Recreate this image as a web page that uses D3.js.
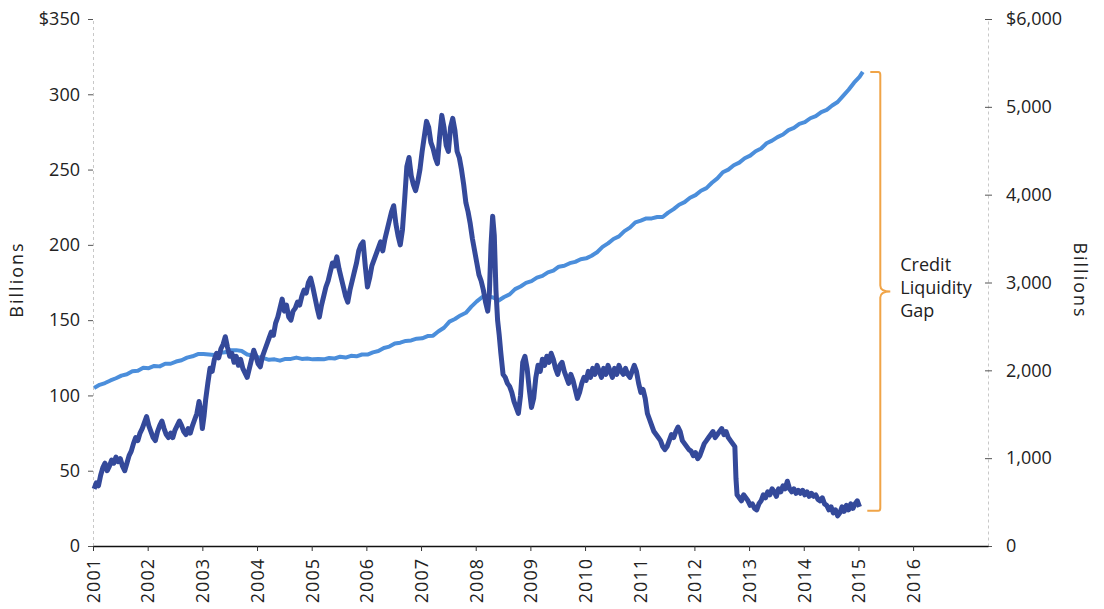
<!DOCTYPE html>
<html>
<head>
<meta charset="utf-8">
<script src="https://cdn.jsdelivr.net/npm/d3@7"></script>
<style>
  body { margin: 0; background: #fff; }
  text { font-family: "Open Sans", sans-serif; fill: #222; }
</style>
</head>
<body>
<div id="chart"></div>
<script>
// data (decimal years)
// dark series, left axis (billions)
const gapYears = [
  2001.02,2001.06,2001.10,2001.14,2001.18,2001.22,2001.26,2001.30,2001.34,2001.38,2001.42,2001.46,2001.50,2001.54,2001.58,2001.62,2001.66,2001.70,2001.74,2001.78,2001.82,2001.86,2001.90,2001.94,2001.98,
  2002.02,2002.06,2002.10,2002.14,2002.18,2002.22,2002.26,2002.30,2002.34,2002.38,2002.42,2002.46,2002.50,2002.54,2002.58,2002.62,2002.66,2002.70,2002.74,2002.78,2002.82,2002.86,2002.90,2002.94,2002.97,
  2003.00,2003.03,2003.06,2003.10,2003.14,2003.18,2003.22,2003.26,2003.30,2003.34,2003.38,2003.42,2003.46,2003.50,2003.54,2003.58,2003.62,2003.66,2003.70,2003.74,2003.78,2003.82,2003.86,2003.90,2003.94,2003.98,
  2004.02,2004.06,2004.10,2004.14,2004.18,2004.22,2004.26,2004.30,2004.34,2004.38,2004.42,2004.46,2004.50,2004.54,2004.58,2004.62,2004.66,2004.70,2004.74,2004.78,2004.82,2004.86,2004.90,2004.94,2004.98,
  2005.02,2005.06,2005.10,2005.14,2005.18,2005.22,2005.26,2005.30,2005.34,2005.38,2005.42,2005.46,2005.50,2005.54,2005.58,2005.62,2005.66,2005.70,2005.74,2005.78,2005.82,2005.86,2005.90,2005.94,2005.98,
  2006.02,2006.06,2006.10,2006.14,2006.18,2006.22,2006.26,2006.30,2006.34,2006.38,2006.42,2006.46,2006.50,2006.54,2006.58,2006.62,2006.66,2006.70,2006.74,2006.78,2006.82,2006.86,2006.90,2006.94,2006.98,
  2007.02,2007.06,2007.10,2007.14,2007.18,2007.22,2007.26,2007.30,2007.34,2007.38,2007.42,2007.46,2007.50,2007.54,2007.58,2007.62,2007.66,2007.70,2007.74,2007.78,2007.82,2007.86,2007.90,2007.94,2007.98,
  2008.02,2008.06,2008.10,2008.14,2008.18,2008.22,2008.25,2008.28,2008.31,2008.34,2008.37,2008.40,2008.43,2008.46,2008.50,2008.54,2008.58,2008.62,2008.66,2008.70,2008.74,2008.78,2008.82,2008.86,2008.90,2008.94,2008.98,
  2009.02,2009.06,2009.10,2009.14,2009.18,2009.22,2009.26,2009.30,2009.34,2009.38,2009.42,2009.46,2009.50,2009.54,2009.58,2009.62,2009.66,2009.70,2009.74,2009.78,2009.82,2009.86,2009.90,2009.94,2009.98,
  2010.02,2010.06,2010.10,2010.14,2010.18,2010.22,2010.26,2010.30,2010.34,2010.38,2010.42,2010.46,2010.50,2010.54,2010.58,2010.62,2010.66,2010.70,2010.74,2010.78,2010.82,2010.86,2010.90,2010.94,2010.98,
  2011.02,2011.06,2011.10,2011.14,2011.18,2011.22,2011.26,2011.30,2011.34,2011.38,2011.42,2011.46,2011.50,2011.54,2011.58,2011.62,2011.66,2011.70,2011.74,2011.78,2011.82,2011.86,2011.90,2011.94,2011.98,
  2012.02,2012.06,2012.10,2012.14,2012.18,2012.22,2012.26,2012.30,2012.34,2012.38,2012.42,2012.46,2012.50,2012.54,2012.58,2012.62,2012.66,2012.70,2012.74,2012.76,2012.78,2012.82,2012.86,2012.90,2012.94,2012.98,
  2013.02,2013.06,2013.10,2013.14,2013.18,2013.22,2013.26,2013.30,2013.34,2013.38,2013.42,2013.46,2013.50,2013.54,2013.58,2013.62,2013.66,2013.70,2013.74,2013.78,2013.82,2013.86,2013.90,2013.94,2013.98,
  2014.02,2014.06,2014.10,2014.14,2014.18,2014.22,2014.26,2014.30,2014.34,2014.38,2014.42,2014.46,2014.50,2014.54,2014.58,2014.62,2014.66,2014.70,2014.74,2014.78,2014.82,2014.86,2014.90,2014.94,2014.98,2015.02];
const gapValues = [
  38,42,40,47,52,55,50,53,57,55,59,56,58,53,50,55,60,63,68,72,70,75,78,82,86,
  80,76,72,70,76,80,83,78,74,72,75,72,77,80,83,80,76,74,78,75,80,84,88,96,90,
  78,86,97,108,118,116,124,128,125,131,134,139,132,126,128,122,126,120,124,118,115,112,118,124,130,126,
  121,119,126,130,134,138,142,140,148,152,158,164,156,160,152,150,156,158,162,160,166,170,168,175,178,
  172,165,158,152,160,166,172,176,182,188,186,192,184,178,172,166,162,170,176,182,188,196,200,202,186,
  172,178,186,190,194,198,202,196,204,210,216,222,226,214,206,200,210,230,252,258,246,240,236,242,250,
  262,272,282,278,268,264,258,254,272,286,278,266,262,278,284,276,262,258,250,240,228,222,214,204,196,
  188,180,176,170,162,156,168,200,219,206,170,150,140,128,114,112,108,106,102,96,92,88,100,122,126,118,104,
  92,98,112,120,116,124,120,126,122,128,124,118,114,120,122,116,112,108,114,110,104,98,102,108,112,
  110,116,112,118,114,120,116,112,118,114,120,116,112,118,114,120,116,114,118,114,112,116,120,116,108,
  102,104,98,88,84,80,76,74,72,70,66,64,66,70,74,72,76,79,76,70,68,66,64,63,60,
  62,58,60,64,68,70,72,74,76,72,74,76,78,74,76,72,70,68,66,45,34,32,30,34,32,30,
  27,28,25,24,28,30,34,32,36,34,38,36,33,38,36,40,38,43,38,36,38,35,37,35,37,
  34,36,33,35,33,34,31,30,32,28,27,24,26,22,24,20,22,26,23,27,24,28,25,28,30,26];

// light series, right axis (billions)
const assetYears = [
  2001.02,2001.12,2001.22,2001.32,2001.42,2001.52,2001.62,2001.72,2001.82,2001.92,
  2002.02,2002.12,2002.22,2002.32,2002.42,2002.52,2002.62,2002.72,2002.82,2002.92,
  2003.02,2003.12,2003.22,2003.32,2003.42,2003.52,2003.62,2003.72,2003.82,2003.92,
  2004.02,2004.12,2004.22,2004.32,2004.42,2004.52,2004.62,2004.72,2004.82,2004.92,
  2005.02,2005.12,2005.22,2005.32,2005.42,2005.52,2005.62,2005.72,2005.82,2005.92,
  2006.02,2006.12,2006.22,2006.32,2006.42,2006.52,2006.62,2006.72,2006.82,2006.92,
  2007.02,2007.12,2007.22,2007.32,2007.42,2007.52,2007.62,2007.72,2007.82,2007.92,
  2008.02,2008.12,2008.22,2008.32,2008.42,2008.52,2008.62,2008.72,2008.82,2008.92,
  2009.02,2009.12,2009.22,2009.32,2009.42,2009.52,2009.62,2009.72,2009.82,2009.92,
  2010.02,2010.12,2010.22,2010.32,2010.42,2010.52,2010.62,2010.72,2010.82,2010.92,
  2011.02,2011.12,2011.22,2011.32,2011.42,2011.52,2011.62,2011.72,2011.82,2011.92,
  2012.02,2012.12,2012.22,2012.32,2012.42,2012.52,2012.62,2012.72,2012.82,2012.92,
  2013.02,2013.12,2013.22,2013.32,2013.42,2013.52,2013.62,2013.72,2013.82,2013.92,
  2014.02,2014.12,2014.22,2014.32,2014.42,2014.52,2014.62,2014.72,2014.82,2014.92,2015.02,2015.08];
const assetValues = [
  1800,1835,1855,1885,1910,1940,1955,1990,1995,2030,
  2025,2050,2045,2075,2075,2100,2115,2145,2160,2185,
  2185,2180,2175,2200,2205,2230,2230,2220,2180,2170,
  2150,2140,2120,2125,2110,2130,2130,2145,2130,2135,
  2125,2130,2125,2140,2135,2155,2145,2165,2160,2180,
  2180,2205,2220,2255,2270,2305,2315,2335,2340,2360,
  2365,2390,2395,2445,2485,2555,2585,2625,2655,2725,
  2785,2835,2840,2830,2795,2835,2865,2925,2955,2995,
  3015,3055,3075,3115,3135,3180,3190,3220,3235,3265,
  3275,3305,3345,3405,3445,3495,3525,3585,3625,3685,
  3705,3730,3730,3745,3745,3795,3835,3885,3915,3965,
  3995,4045,4075,4135,4185,4255,4285,4335,4365,4415,
  4445,4495,4525,4585,4615,4655,4685,4735,4760,4805,
  4825,4870,4895,4940,4965,5015,5055,5125,5195,5275,5340,5397];

const xTicks = [2001,2002,2003,2004,2005,2006,2007,2008,2009,2010,2011,2012,2013,2014,2015,2016];
const leftTicks = [0,50,100,150,200,250,300,350];
const rightTicks = [0,1000,2000,3000,4000,5000,6000];
const gapLabel = ["Credit", "Liquidity", "Gap"];

const W = 1104, H = 609;
const margin = {top: 19, right: 116, bottom: 63, left: 93},
  width = W - margin.left - margin.right,
  height = H - margin.top - margin.bottom;

const svg = d3.select("#chart")
  .append("svg")
    .attr("width", W)
    .attr("height", H)
  .append("g")
    .attr("transform", `translate(${margin.left},${margin.top})`);

const x = d3.scaleLinear().domain([2001, 2017.37]).range([0, width]);
const yL = d3.scaleLinear().domain([0, 350]).range([height, 0]);
const yR = d3.scaleLinear().domain([0, 6000]).range([height, 0]);

// left axis
const leftAxis = svg.append("g")
  .call(d3.axisLeft(yL).tickValues(leftTicks).tickSize(5).tickPadding(8)
    .tickFormat(d => d === 350 ? "$350" : d));
leftAxis.select(".domain").attr("stroke", "#c8c8c8").attr("stroke-dasharray", "3,3");
leftAxis.selectAll(".tick line").attr("stroke", "#555");
leftAxis.selectAll("text").style("font-size", "18px").attr("fill", "#222");

// right axis
const rightAxis = svg.append("g")
  .attr("transform", `translate(${width},0)`)
  .call(d3.axisRight(yR).tickValues(rightTicks).tickSize(0).tickPadding(18)
    .tickFormat(d => d === 6000 ? "$6,000" : d3.format(",")(d)));
rightAxis.select(".domain").attr("stroke", "#c8c8c8").attr("stroke-dasharray", "3,3");
rightAxis.selectAll(".tick").append("line")
  .attr("x1", -3).attr("x2", 4).attr("stroke", "#555");
rightAxis.selectAll("text").style("font-size", "18px").attr("fill", "#222");

// bottom axis
const bottomAxis = svg.append("g")
  .attr("transform", `translate(0,${height})`)
  .call(d3.axisBottom(x).tickValues(xTicks).tickSize(5).tickSizeOuter(0).tickFormat(d3.format("d")));
bottomAxis.select(".domain").attr("stroke", "#111").attr("stroke-width", 1.5);
bottomAxis.selectAll(".tick line").attr("stroke", "#333");
bottomAxis.selectAll("text")
  .style("font-size", "18px")
  .style("letter-spacing", "1px")
  .attr("fill", "#222")
  .attr("text-anchor", "end")
  .attr("dy", "0.35em")
  .attr("transform", "translate(0,3) rotate(-90)")
  .attr("x", -9)
  .attr("y", 0);

// axis titles
svg.append("text")
  .attr("transform", `translate(${-70},${height / 2 - 3}) rotate(-90)`)
  .attr("text-anchor", "middle")
  .style("font-size", "18px")
  .style("letter-spacing", "2px")
  .text("Billions");
svg.append("text")
  .attr("transform", `translate(${width + 86},${height / 2 - 2}) rotate(90)`)
  .attr("text-anchor", "middle")
  .style("font-size", "18px")
  .style("letter-spacing", "2px")
  .text("Billions");

// lines
const lineL = d3.line().x((d, i) => x(gapYears[i])).y(d => yL(d));
const lineR = d3.line().x((d, i) => x(assetYears[i])).y(d => yR(d));

svg.append("path")
  .datum(assetValues)
  .attr("fill", "none")
  .attr("stroke", "#4b8edb")
  .attr("stroke-width", 4)
  .attr("stroke-linejoin", "round")
  .attr("d", lineR);

svg.append("path")
  .datum(gapValues)
  .attr("fill", "none")
  .attr("stroke", "#34499a")
  .attr("stroke-width", 5)
  .attr("stroke-linejoin", "round")
  .attr("d", lineL);

// bracket
const topY = yR(assetValues[assetValues.length - 1]);
const botY = yL(gapValues[gapValues.length - 1]) + 4;
const bx = x(2015.4);
const midY = (topY + botY) / 2;
svg.append("path")
  .attr("fill", "none")
  .attr("stroke", "#f0a447")
  .attr("stroke-width", 2)
  .attr("d", `M${bx - 10},${topY} L${bx - 2},${topY} Q${bx},${topY} ${bx},${topY + 3}
    L${bx},${midY - 6} Q${bx},${midY} ${bx + 10},${midY} Q${bx},${midY} ${bx},${midY + 6}
    L${bx},${botY - 3} Q${bx},${botY} ${bx - 2},${botY} L${bx - 13},${botY}`);

svg.append("text")
  .attr("x", bx + 20)
  .attr("y", midY - 20)
  .style("font-size", "18px")
  .selectAll("tspan")
  .data(gapLabel)
  .join("tspan")
    .attr("x", bx + 20)
    .attr("dy", (d, i) => i === 0 ? 0 : 23)
    .text(d => d);
</script>
</body>
</html>
